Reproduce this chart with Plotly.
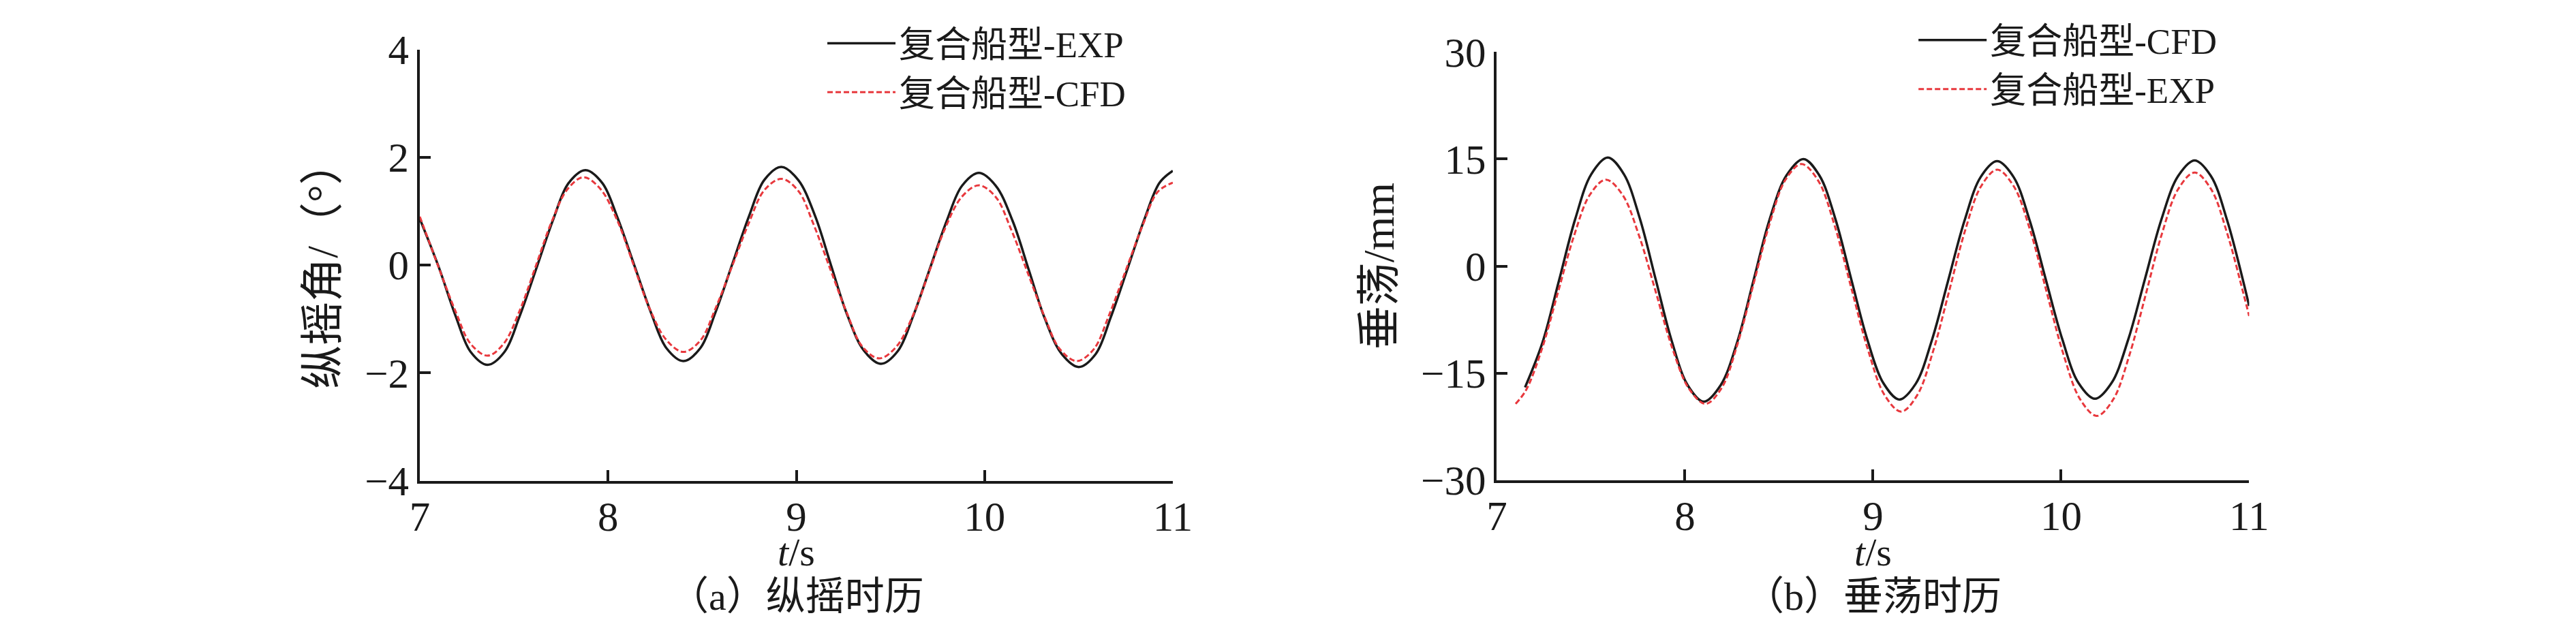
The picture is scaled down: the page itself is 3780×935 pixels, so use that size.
import plotly.graph_objects as go

# ---------------- data: (a) pitch time history ----------------
pitch_t_exp = [7.00, 7.10, 7.19, 7.27, 7.36, 7.45, 7.53, 7.62, 7.71, 7.79, 7.88,
               7.97, 8.05, 8.14, 8.23, 8.31, 8.40, 8.49, 8.57, 8.66, 8.75, 8.83, 8.92,
               9.01, 9.10, 9.185, 9.27, 9.36, 9.45, 9.54, 9.62, 9.71, 9.80, 9.88, 9.97,
               10.06, 10.15, 10.235, 10.32, 10.41, 10.50, 10.59, 10.67, 10.76, 10.85, 10.93, 11.00]
pitch_exp = [0.86, -0.03, -0.94, -1.61, -1.85, -1.61, -0.95, -0.05, 0.86, 1.52, 1.76,
             1.52, 0.88, -0.01, -0.90, -1.54, -1.78, -1.54, -0.88, 0.02, 0.92, 1.58, 1.82,
             1.58, 0.91, -0.01, -0.92, -1.59, -1.83, -1.59, -0.95, -0.06, 0.83, 1.47, 1.71,
             1.47, 0.81, -0.09, -0.99, -1.65, -1.89, -1.65, -0.97, -0.06, 0.86, 1.53, 1.75]

pitch_t_cfd = [7.00, 7.10, 7.19, 7.27, 7.36, 7.445, 7.53, 7.615, 7.70, 7.785, 7.87,
               7.96, 8.05, 8.135, 8.22, 8.31, 8.40, 8.49, 8.57, 8.66, 8.75, 8.83, 8.92,
               9.01, 9.09, 9.18, 9.27, 9.35, 9.44, 9.53, 9.62, 9.705, 9.79, 9.88, 9.97,
               10.06, 10.14, 10.23, 10.32, 10.40, 10.49, 10.58, 10.66, 10.75, 10.84, 10.92, 11.00]
pitch_cfd = [0.90, -0.04, -0.86, -1.46, -1.68, -1.46, -0.85, -0.03, 0.80, 1.41, 1.63,
             1.41, 0.82, 0.01, -0.80, -1.39, -1.61, -1.40, -0.81, -0.01, 0.80, 1.39, 1.60,
             1.38, 0.77, -0.07, -0.90, -1.51, -1.73, -1.52, -0.93, -0.13, 0.68, 1.27, 1.48,
             1.26, 0.67, -0.15, -0.97, -1.56, -1.78, -1.56, -0.94, -0.10, 0.74, 1.36, 1.53]

# ---------------- data: (b) heave time history ----------------
heave_t_cfd = [7.15, 7.243, 7.33, 7.417, 7.503, 7.59, 7.675, 7.76, 7.845, 7.93, 8.015, 8.10,
               8.19, 8.28, 8.365, 8.45, 8.54, 8.63, 8.715, 8.80, 8.885, 8.97, 9.055, 9.14,
               9.227, 9.313, 9.40, 9.487, 9.573, 9.66, 9.747, 9.833, 9.92, 10.007, 10.093, 10.18,
               10.268, 10.357, 10.445, 10.533, 10.622, 10.71, 10.797, 10.883, 10.97, 11.00]
heave_cfd = [-17.0, -10.7, -2.1, 6.6, 12.9, 15.2, 12.9, 6.7, -1.9, -10.5, -16.7, -19.0,
             -16.7, -10.5, -2.0, 6.5, 12.7, 15.0, 12.7, 6.6, -1.9, -10.3, -16.4, -18.7,
             -16.5, -10.4, -2.0, 6.4, 12.5, 14.7, 12.5, 6.4, -2.0, -10.3, -16.4, -18.6,
             -16.4, -10.3, -1.9, 6.5, 12.6, 14.8, 12.6, 6.4, -2.3, -5.6]

heave_t_exp = [7.10, 7.155, 7.24, 7.325, 7.41, 7.495, 7.58, 7.668, 7.757, 7.845, 7.933, 8.022, 8.11,
               8.195, 8.28, 8.365, 8.45, 8.535, 8.62, 8.708, 8.797, 8.885, 8.973, 9.062, 9.15,
               9.235, 9.32, 9.405, 9.49, 9.575, 9.66, 9.748, 9.837, 9.925, 10.013, 10.102, 10.19,
               10.277, 10.363, 10.45, 10.537, 10.623, 10.71, 10.797, 10.883, 10.97, 11.00]
heave_exp = [-19.3, -17.4, -11.6, -3.7, 4.2, 10.0, 12.1, 10.0, 4.2, -3.6, -11.5, -17.2, -19.3,
             -17.1, -10.9, -2.5, 5.9, 12.1, 14.3, 12.0, 5.6, -3.1, -11.7, -18.1, -20.4,
             -18.1, -11.9, -3.5, 5.0, 11.2, 13.5, 11.2, 4.9, -3.8, -12.4, -18.7, -21.0,
             -18.7, -12.5, -4.0, 4.6, 10.8, 13.1, 10.8, 4.6, -3.9, -7.0]

x_ticks = [7, 8, 9, 10, 11]
pitch_ticks = [-4, -2, 0, 2, 4]
heave_ticks = [-30, -15, 0, 15, 30]

name_exp = "复合船型-EXP"
name_cfd = "复合船型-CFD"

# ---------------- style ----------------
FONT = "Liberation Serif, Noto Sans CJK SC, serif"
BLACK = "#1a1a1a"
RED = "#E8383D"
W, H = 3780, 935

fig = go.Figure()

# panel (a)
fig.add_trace(go.Scatter(x=pitch_t_exp, y=pitch_exp, mode="lines", name=name_exp,
                         line=dict(color=BLACK, width=3.5, shape="spline", smoothing=1.0),
                         xaxis="x", yaxis="y", legend="legend"))
fig.add_trace(go.Scatter(x=pitch_t_cfd, y=pitch_cfd, mode="lines", name=name_cfd,
                         line=dict(color=RED, width=3, dash="8px,4px", shape="spline", smoothing=1.0),
                         xaxis="x", yaxis="y", legend="legend"))
# panel (b)
fig.add_trace(go.Scatter(x=heave_t_cfd, y=heave_cfd, mode="lines", name=name_cfd,
                         line=dict(color=BLACK, width=3.5, shape="spline", smoothing=1.0),
                         xaxis="x2", yaxis="y2", legend="legend2"))
fig.add_trace(go.Scatter(x=heave_t_exp, y=heave_exp, mode="lines", name=name_exp,
                         line=dict(color=RED, width=3, dash="8px,4px", shape="spline", smoothing=1.0),
                         xaxis="x2", yaxis="y2", legend="legend2"))

axis_common = dict(showline=True, linecolor=BLACK, linewidth=3.5, ticks="inside",
                   ticklen=16, tickwidth=3.5, tickcolor=BLACK, showgrid=False,
                   zeroline=False, mirror=False,
                   tickfont=dict(family=FONT, size=61, color=BLACK))

title_font = dict(family=FONT, size=64, color=BLACK)
xtitle_font = dict(family=FONT, size=58, color=BLACK)
leg_font = dict(family=FONT, size=53, color=BLACK)

fig.update_layout(
    width=W, height=H,
    margin=dict(l=0, r=0, t=0, b=0),
    paper_bgcolor="white", plot_bgcolor="white",
    font=dict(family=FONT, color=BLACK),
    xaxis=dict(domain=[600 / W, 1718 / W], range=[7, 11], tickvals=x_ticks,
               anchor="y", ticklabelstandoff=-4, **axis_common),
    yaxis=dict(domain=[(H - 716) / H, (H - 34) / H], range=[-4, 4], tickvals=pitch_ticks,
               anchor="x", title=dict(text="纵摇角/（°）", font=title_font, standoff=20),
               **axis_common),
    xaxis2=dict(domain=[2199 / W, 3316 / W], range=[7, 11], tickvals=x_ticks,
                anchor="y2", ticklabelstandoff=-4, **axis_common),
    yaxis2=dict(domain=[(H - 715) / H, (H - 38) / H], range=[-30, 30], tickvals=heave_ticks,
                anchor="x2", title=dict(text="垂荡/mm", font=title_font, standoff=20),
                **axis_common),
    legend=dict(x=1200 / W, y=1 + 20 / H, xanchor="left", yanchor="top",
                bgcolor="rgba(0,0,0,0)", itemwidth=100, tracegroupgap=0,
                font=leg_font),
    legend2=dict(x=2820 / W, y=1 + 25 / H, xanchor="left", yanchor="top",
                 bgcolor="rgba(0,0,0,0)", itemwidth=100, tracegroupgap=0,
                 font=leg_font),
    showlegend=True,
)

# x-axis titles (placed as in the reference, under the tick labels)
for xc in [(600 + 1718) / 2, (2199 + 3316) / 2]:
    fig.add_annotation(text="<i>t</i>/s", xref="paper", yref="paper",
                       x=xc / W, y=(H - 829) / H, xanchor="center", yanchor="middle",
                       showarrow=False, font=xtitle_font)

cap_font = dict(family=FONT, size=58, color=BLACK)
fig.add_annotation(text="（a）纵摇时历", xref="paper", yref="paper",
                   x=(600 + 1718) / 2 / W, y=(H - 899) / H, xanchor="center", yanchor="middle",
                   showarrow=False, font=cap_font)
fig.add_annotation(text="（b）垂荡时历", xref="paper", yref="paper",
                   x=(2199 + 3316) / 2 / W, y=(H - 899) / H, xanchor="center", yanchor="middle",
                   showarrow=False, font=cap_font)

fig.write_html("out.html")
